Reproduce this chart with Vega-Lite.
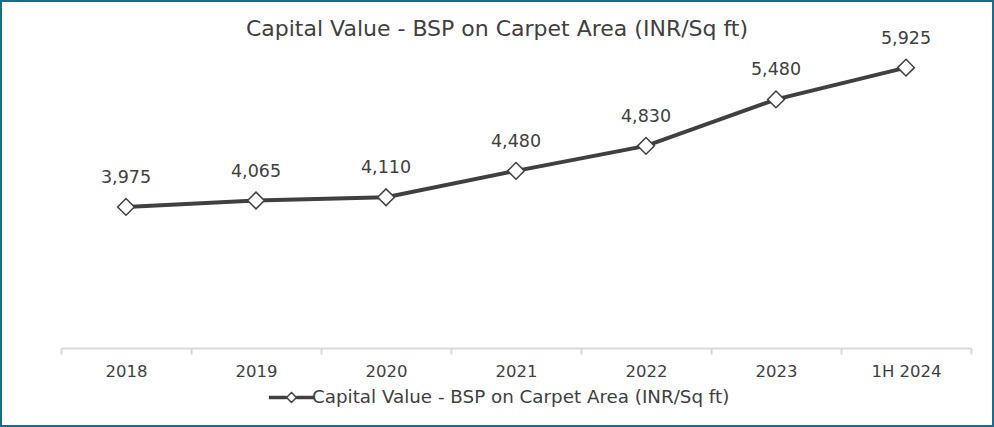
{
  "$schema": "https://vega.github.io/schema/vega-lite/v6.json",
  "width": 994,
  "height": 427,
  "autosize": "none",
  "padding": 0,
  "background": "white",
  "config": {
    "view": {"stroke": "#1F6A8A", "strokeWidth": 4},
    "font": "DejaVu Sans"
  },
  "title": {
    "text": "Capital Value - BSP on Carpet Area (INR/Sq ft)",
    "fontSize": 22,
    "fontWeight": "normal",
    "color": "#404040",
    "font": "DejaVu Sans",
    "anchor": "middle",
    "frame": "group",
    "baseline": "middle",
    "offset": -51
  },
  "data": {
    "values": [
      {"period": "2018", "value": 3975, "series": "Capital Value - BSP on Carpet Area (INR/Sq ft)"},
      {"period": "2019", "value": 4065, "series": "Capital Value - BSP on Carpet Area (INR/Sq ft)"},
      {"period": "2020", "value": 4110, "series": "Capital Value - BSP on Carpet Area (INR/Sq ft)"},
      {"period": "2021", "value": 4480, "series": "Capital Value - BSP on Carpet Area (INR/Sq ft)"},
      {"period": "2022", "value": 4830, "series": "Capital Value - BSP on Carpet Area (INR/Sq ft)"},
      {"period": "2023", "value": 5480, "series": "Capital Value - BSP on Carpet Area (INR/Sq ft)"},
      {"period": "1H 2024", "value": 5925, "series": "Capital Value - BSP on Carpet Area (INR/Sq ft)"}
    ]
  },
  "encoding": {
    "x": {
      "field": "period",
      "type": "ordinal",
      "sort": null,
      "scale": {"type": "band", "range": [61, 971], "paddingInner": 0, "paddingOuter": 0},
      "axis": {
        "title": null,
        "offset": -79,
        "labelAngle": 0,
        "domainColor": "#d9d9d9",
        "domainWidth": 2,
        "tickBand": "extent",
        "tickColor": "#d9d9d9",
        "tickWidth": 2,
        "tickSize": 6,
        "labelFontSize": 16.5,
        "labelColor": "#404040",
        "labelFont": "DejaVu Sans",
        "labelPadding": 9,
        "grid": false
      }
    },
    "y": {
      "field": "value",
      "type": "quantitative",
      "scale": {"domain": [2000, 6200], "range": [348, 48], "nice": false, "zero": false},
      "axis": null
    }
  },
  "layer": [
    {
      "mark": {"type": "line", "strokeWidth": 4},
      "encoding": {
        "color": {
          "field": "series",
          "type": "nominal",
          "scale": {"range": ["#404040"]},
          "legend": {
            "title": null,
            "orient": "none",
            "legendX": 268,
            "legendY": 374,
            "symbolType": "M-1,-0.045H-0.22M-1,0H-0.22M-1,0.045H-0.22M0.22,-0.045H1M0.22,0H1M0.22,0.045H1M-0.22,0L0,-0.22L0.22,0L0,0.22Z",
            "symbolSize": 2025,
            "symbolStrokeWidth": 1.5,
            "symbolFillColor": "white",
            "symbolStrokeColor": "#404040",
            "labelFontSize": 18.3,
            "labelColor": "#404040",
            "labelFont": "DejaVu Sans",
            "labelOffset": -3,
            "labelLimit": 600,
            "encode": {
              "symbols": {
                "update": {
                  "fill": {"value": "white"},
                  "stroke": {"value": "#404040"},
                  "strokeWidth": {"value": 1.5},
                  "opacity": {"value": 1}
                }
              }
            }
          }
        }
      }
    },
    {
      "mark": {"type": "point", "shape": "diamond", "size": 280, "filled": true, "fill": "white", "stroke": "#404040", "strokeWidth": 1.5, "opacity": 1}
    },
    {
      "mark": {"type": "text", "dy": -29, "baseline": "middle", "fontSize": 17.5, "color": "#404040", "font": "DejaVu Sans"},
      "encoding": {
        "text": {"field": "value", "type": "quantitative", "format": ","}
      }
    }
  ]
}
